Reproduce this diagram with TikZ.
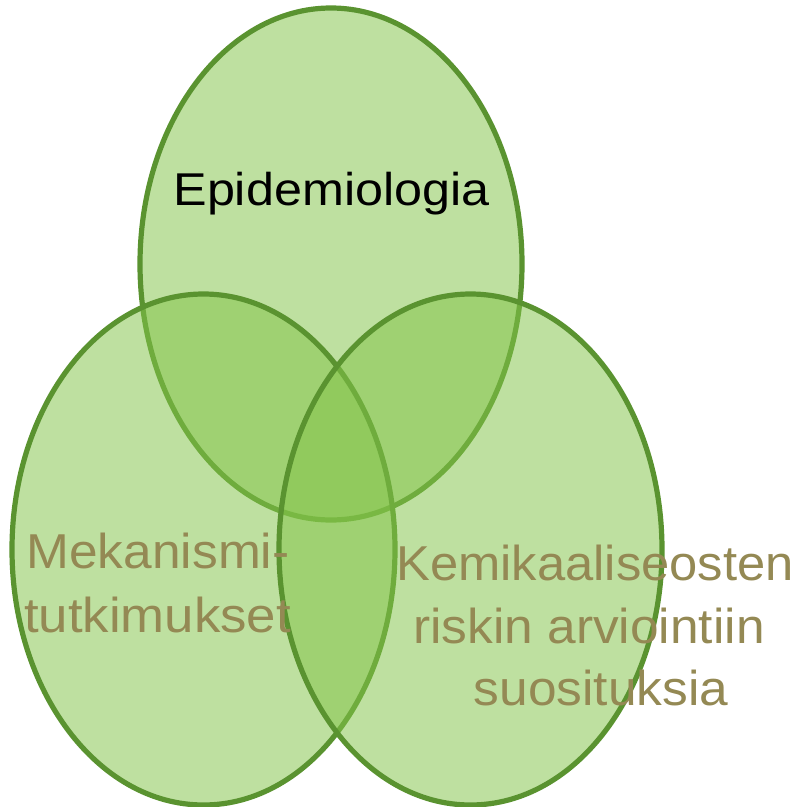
\documentclass[tikz,border=0pt]{standalone}
\usepackage{fontspec}
\setmainfont{Liberation Sans}
\definecolor{vfill}{RGB}{131,196,73}
\definecolor{vline}{RGB}{90,147,48}
\definecolor{olive}{RGB}{148,137,84}
\newcommand{\wide}[2]{\scalebox{#1}[1]{#2}}
\tikzset{
  venn/.style={fill=vfill, fill opacity=0.52, draw=vline, draw opacity=1, line width=5.2pt},
  lbl/.style={inner sep=0pt, anchor=base, font=\fontsize{49}{62}\selectfont, text=olive},
}
\begin{document}
\begin{tikzpicture}[x=1pt,y=-1pt]
\useasboundingbox (0,0) rectangle (798,807);
\path[venn] (331,264) ellipse [x radius=191, y radius=256];
\path[venn] (203.5,549.5) ellipse [x radius=191.5, y radius=255.5];
\path[venn] (470.5,549.5) ellipse [x radius=191.5, y radius=255.5];
\node[lbl, text=black, font=\fontsize{46}{54}\selectfont] (epi) at (331.5,205) {\wide{1.094}{Epidemiologia}};
\node[lbl] (mek1) at (158,568) {\wide{1.05}{Mekanismi-}};
\node[lbl] (mek2) at (157.5,632) {\wide{1.077}{tutkimukset}};
\node[lbl] (kem1) at (595,580) {\wide{1.035}{Kemikaaliseosten}};
\node[lbl] (kem2) at (589,643) {\wide{1.05}{riskin arviointiin}};
\node[lbl] (kem3) at (601,705) {\wide{1.05}{suosituksia}};
\end{tikzpicture}
\end{document}
